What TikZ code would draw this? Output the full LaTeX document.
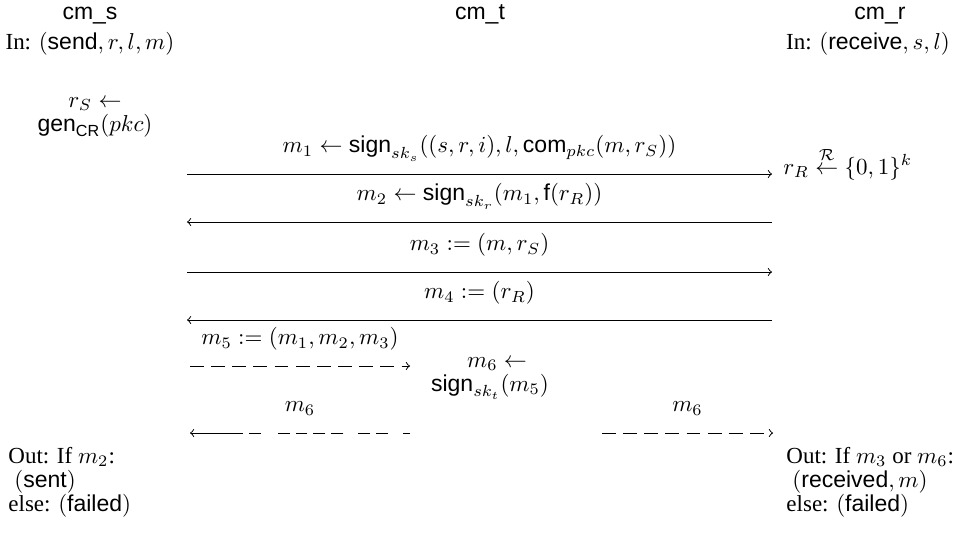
\documentclass[tikz,border=0pt]{standalone}
\usepackage{amsmath}
\usepackage[no-math]{fontspec}
\setmainfont{Liberation Serif}
\setsansfont{Liberation Sans}
\newcommand{\alg}[1]{\text{\sffamily #1}}
\tikzset{
    txt/.style={anchor=base,inner sep=0pt},
    lefttxt/.style={anchor=base west,inner sep=0pt},
    msg/.style={->,line width=0.4pt},
    dmsg/.style={->,line width=0.4pt,dash pattern=on 6pt off 3.2pt},
    lbl/.style={midway,anchor=base,inner sep=0pt,yshift=9.2pt}
}
\begin{document}
\begin{tikzpicture}[x=0.435pt,y=-0.435pt]
            \useasboundingbox (0,0) rectangle (961,536);
            % parties
            \node[txt] (cms) at (90,19) {\textsf{cm\_s}};
            \node[txt] (cmt) at (480,19) {\textsf{cm\_t}};
            \node[txt] (cmr) at (880,19) {\textsf{cm\_r}};
            \node[txt] (ins) at (90,49) {In: $(\alg{send},r,l,m)$};
            \node[txt] (inr) at (868,49) {In: $(\alg{receive},s,l)$};
            \node[txt] (rsa) at (95,107) {$r_S \leftarrow$};
            \node[txt] (rsb) at (95,131) {$\alg{gen}_{\alg{CR}}(pkc)$};
            \node[lefttxt] (rr) at (783,174)
                {$r_R \stackrel{\mathcal{R}}{\leftarrow} \{0,1\}^k$};
            % message ends
            \foreach \n/\y in {1/174,2/222,3/272,4/320}
            {\coordinate (l\n) at (187,\y);
             \coordinate (r\n) at (772,\y);}
            \draw[msg] (l1)--(r1)
                node[lbl] {$m_1 \leftarrow \alg{sign}_{sk_s}((s,r,i),l,\alg{com}_{pkc}(m,r_S))$};
            \draw[msg] (r2)--(l2)
                node[lbl] {$m_2 \leftarrow \alg{sign}_{sk_r}(m_1,\alg{f}(r_R))$};
            \draw[msg] (l3)--(r3)
                node[lbl] {$m_3 := (m,r_S)$};
            \draw[msg] (r4)--(l4)
                node[lbl] {$m_4 := (r_R)$};
            % trusted third party
            \coordinate (l5) at (190,366);
            \coordinate (t5) at (410,366);
            \draw[dmsg] (l5)--(t5)
                node[lbl] {$m_5 := (m_1,m_2,m_3)$};
            \node[txt] (ma) at (497,367) {$m_6 \leftarrow$};
            \node[txt] (mb) at (490,391) {$\alg{sign}_{sk_t}(m_5)$};
            \coordinate (t6) at (410,433);
            \coordinate (l6) at (190,433);
            \coordinate (u6) at (602,433);
            \coordinate (r6) at (773,433);
            \draw[->,line width=0.4pt,dash pattern=on 3pt off 6.5pt on 5.2pt off 2.6pt on 5.2pt off 6.5pt
                on 5.2pt off 2.6pt on 5.2pt off 2.6pt on 5.2pt off 2.6pt on 5.2pt off 7.4pt
                on 5.2pt off 2.6pt on 30pt] (t6)--(l6)
                node[lbl] {$m_6$};
            \draw[dmsg] (u6)--(r6)
                node[lbl] {$m_6$};
            % outputs
            \node[lefttxt] (outs) at (8,463) {Out: If $m_2$:};
            \node[lefttxt] (snt) at (14,487) {$(\alg{sent})$};
            \node[lefttxt] (fls) at (8,511) {else: $(\alg{failed})$};
            \node[lefttxt] (outr) at (786,463) {Out: If $m_3$ or $m_6$:};
            \node[lefttxt] (rcv) at (792,487) {$(\alg{received},m)$};
            \node[lefttxt] (flr) at (786,511) {else: $(\alg{failed})$};
\end{tikzpicture}
\end{document}
